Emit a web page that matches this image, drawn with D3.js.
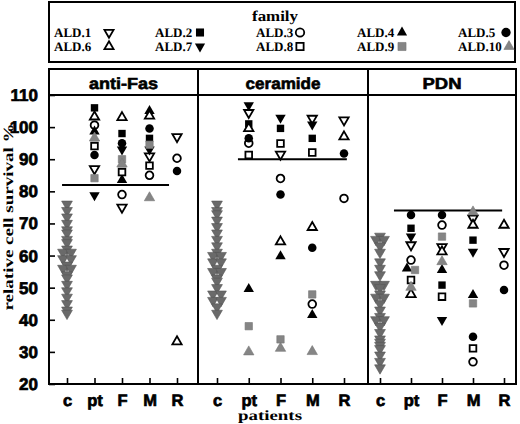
<!DOCTYPE html>
<html><head><meta charset="utf-8">
<script src="https://cdn.jsdelivr.net/npm/d3@7"></script>
<style>body{margin:0;background:#fff}svg{display:block}text{text-rendering:geometricPrecision}</style>
</head><body>
<script>
// ---------- data ----------
const families = ["ALD.1","ALD.2","ALD.3","ALD.4","ALD.5","ALD.6","ALD.7","ALD.8","ALD.9","ALD.10"];
const familyShapes = ["triDown","square","circle","triUp","circle","triUp","triDown","square","square","triUp"];
const familyFills  = ["open","black","open","black","black","open","black","open","gray","gray"];
const categories = ["c","pt","F","M","R"];
const panelNames = ["anti-Fas","ceramide","PDN"];
const yTicks = [20,30,40,50,60,70,80,90,100,110];
const thresholds = [82, 90, 74];

// controls (gray down triangles)
const antiFasControls  = [76,74,72,70,68,67,65,64,62,61,61,59,59,57,56,56,54,53,51,49,47,45,43,42];
const ceramideControls = [76,74,73,71,69,67,65,63,61,60,60,58,58,56,55,55,53,52,50,48,48,46,46,44,42];
const pdnControls      = [66,65,65,63,61,58,56,54,51,51,50,48,47,47,45,43,41,40,40,38,36,34,33,32,31,29,27,25];

// family values, index = ALD.1 .. ALD.10 (null = not measured)
const antiFasPt = [87,106,100.6,98.6,91.3,103.2,78.8,94.1,84.1,96.6];
const antiFasF  = [75,98,79,83.5,95,103,93,86,90,88.5];
const antiFasM  = [91,96.5,85,105,99.6,103.5,93,88,94.5,78];
const antiFasR  = [97,null,90.3,null,86.3,33.2,null,null,null,null];

const ceramidePt = [104.5,101,95,49.6,96.5,99.6,106.8,91.3,38,30];
const ceramideF  = [91.5,99.6,84,59.8,79,64.3,102.9,94.9,33.9,31.1];
const ceramideM  = [102.7,96.5,44.9,41.5,62.4,68.8,100.8,92.1,47.9,30.1];
const ceramideR  = [102.2,null,77.8,null,91.8,97,null,null,null,null];

const pdnPt = [63.3,68.5,58.6,56,72.6,47.9,65.9,52.4,55.5,50.1];
const pdnF  = [62.7,50.8,69.5,55.5,72.6,61.2,39.9,47.2,65.9,58.1];
const pdnM  = [71.6,64.8,26.9,47.7,34.7,69.5,61.2,31.1,45.1,73.6];
const pdnR  = [61.2,null,57,null,49.3,69.5,null,null,null,null];

const panelControls = [antiFasControls, ceramideControls, pdnControls];
const panelGroups = [
  {pt: antiFasPt, F: antiFasF, M: antiFasM, R: antiFasR},
  {pt: ceramidePt, F: ceramideF, M: ceramideM, R: ceramideR},
  {pt: pdnPt, F: pdnF, M: pdnM, R: pdnR}
];

// ---------- layout ----------
const W = 520, H = 424;
const plotTop = 69, headerBottom = 95, plotBottom = 384;
const panelX = [[49,198],[198,368],[368,516]];
const catRange = [[67,177],[217,344],[380,504]];
const lineSpan = [[-0.18,3.71],[0.66,4.09],[0.45,3.94]];
const titleLen = [69,75,39];

const svg = d3.select("body").append("svg").attr("width", W).attr("height", H);

const y = d3.scaleLinear().domain([20,110]).range([plotBottom, headerBottom]);

const sym = d3.symbol();
function shapePath(shape, fill, s) {
  if (shape === "square") return sym.type(d3.symbolSquare).size(s * (fill === "open" ? 0.85 : 1.05))();
  if (shape === "circle") return sym.type(d3.symbolCircle).size(s * (fill === "open" ? 0.9 : 1.1))();
  return sym.type(d3.symbolTriangle).size(s * (fill === "open" ? 0.72 : 0.9))();
}
function drawMarker(g, shape, fill, cx, cy, s) {
  const p = g.append("path")
    .attr("d", shapePath(shape, fill, s))
    .attr("transform", `translate(${cx},${cy})` + (shape === "triDown" ? " rotate(180)" : ""));
  if (fill === "open") p.attr("fill", "#fff").attr("stroke", "#000").attr("stroke-width", 1.8);
  else if (fill === "black") p.attr("fill", "#000");
  else if (fill === "gray") p.attr("fill", "#858585").attr("stroke", "#777").attr("stroke-width", 0.6);
  else if (fill === "ctrl") p.attr("fill", "#6a6a6a").attr("stroke", "#555").attr("stroke-width", 0.6);
  return p;
}

// dodge: points with (nearly) equal values side by side
function dodge(values, tol) {
  const idx = values.map((v, i) => i).filter(i => values[i] != null)
    .sort((a, b) => values[b] - values[a]);
  const off = new Array(values.length).fill(0);
  let group = [];
  const flush = () => {
    group.forEach((i, k) => { off[i] = (k - (group.length - 1) / 2) * 8; });
    group = [];
  };
  idx.forEach(i => {
    if (group.length && Math.abs(values[group[group.length - 1]] - values[i]) > tol) flush();
    group.push(i);
  });
  flush();
  return off;
}

// ---------- legend ----------
const leg = svg.append("g");
leg.append("rect").attr("x", 49).attr("y", 2).attr("width", 466).attr("height", 60)
  .attr("fill", "none").attr("stroke", "#000").attr("stroke-width", 2);
leg.append("text").attr("x", 275).attr("y", 21).attr("text-anchor", "middle")
  .attr("font-family", "Liberation Serif").attr("font-weight", "bold").attr("font-size", 15)
  .attr("textLength", 46).attr("lengthAdjust", "spacingAndGlyphs").text("family");
const legSymDx = [55,45,44,45,48];
families.forEach((f, i) => {
  const col = i % 5, row = Math.floor(i / 5);
  const tx = 54 + col * 101;
  leg.append("text").attr("x", tx).attr("y", 37 + row * 14)
    .attr("font-family", "Liberation Serif").attr("font-weight", "bold").attr("font-size", 13)
    .text(f);
  const shp = familyShapes[i];
  const s = shp.startsWith("tri") ? 50 : 62;
  drawMarker(leg, shp, familyFills[i], tx + legSymDx[col] + (i === 9 ? 3 : 0), 32.5 + row * 14, s);
});

// ---------- panels ----------
panelNames.forEach((name, pi) => {
  const [x0, x1] = panelX[pi];
  const g = svg.append("g");
  const x = d3.scalePoint().domain(categories).range(catRange[pi]);

  // threshold line
  const step = x.step();
  g.append("line")
    .attr("x1", x("c") + lineSpan[pi][0] * step).attr("x2", x("c") + lineSpan[pi][1] * step)
    .attr("y1", y(thresholds[pi])).attr("y2", y(thresholds[pi]))
    .attr("stroke", "#000").attr("stroke-width", 2);

  // controls
  const ctrl = panelControls[pi];
  const cOff = dodge(ctrl, 0.6);
  ctrl.forEach((v, i) => drawMarker(g, "triDown", "ctrl", x("c") + cOff[i], y(v), 56));

  // families
  ["pt","F","M","R"].forEach(cat => {
    const vals = panelGroups[pi][cat];
    const off = dodge(vals, 0.6);
    vals.forEach((v, i) => {
      if (v == null) return;
      drawMarker(g, familyShapes[i], familyFills[i], x(cat) + off[i], y(v), 52);
    });
  });

  // x axis
  const xa = g.append("g").attr("transform", `translate(0,${plotBottom})`)
    .call(d3.axisBottom(x).tickSizeInner(-6).tickSizeOuter(0).tickPadding(10));
  xa.select(".domain").remove();
  xa.selectAll(".tick line").attr("stroke", "#000").attr("stroke-width", 1.6);
  xa.selectAll(".tick text").attr("font-family", "Liberation Sans").attr("font-weight", "bold")
    .attr("font-size", 16.5).attr("fill", "#000").attr("stroke", "#000").attr("stroke-width", 0.7);

  // frame + header
  g.append("rect").attr("x", x0).attr("y", plotTop).attr("width", x1 - x0).attr("height", plotBottom - plotTop)
    .attr("fill", "none").attr("stroke", "#000").attr("stroke-width", 2);
  g.append("line").attr("x1", x0).attr("x2", x1).attr("y1", headerBottom).attr("y2", headerBottom)
    .attr("stroke", "#000").attr("stroke-width", 2);
  g.append("text").attr("x", (x0 + x1) / 2).attr("y", 89).attr("text-anchor", "middle")
    .attr("font-family", "Liberation Sans").attr("font-weight", "bold").attr("font-size", 16)
    .attr("stroke", "#000").attr("stroke-width", 0.6)
    .attr("textLength", titleLen[pi]).attr("lengthAdjust", "spacingAndGlyphs").text(name);
});

// y axis
const ya = svg.append("g").attr("transform", `translate(49,0)`)
  .call(d3.axisLeft(y).tickValues(yTicks).tickSizeInner(-6).tickSizeOuter(0).tickPadding(11));
ya.select(".domain").remove();
ya.selectAll(".tick line").attr("stroke", "#000").attr("stroke-width", 1.6);
ya.selectAll(".tick text").attr("font-family", "Liberation Sans").attr("font-weight", "bold")
  .attr("font-size", 17).attr("fill", "#000").attr("stroke", "#000").attr("stroke-width", 0.7);

// axis titles
svg.append("text").attr("transform", "translate(13,217) rotate(-90)").attr("text-anchor", "middle")
  .attr("font-family", "Liberation Serif").attr("font-weight", "bold").attr("font-size", 14)
  .attr("fill", "#000")
  .attr("textLength", 187).attr("lengthAdjust", "spacingAndGlyphs").text("relative cell survival %");
svg.append("text").attr("x", 270).attr("y", 419.5).attr("text-anchor", "middle")
  .attr("font-family", "Liberation Serif").attr("font-weight", "bold").attr("font-size", 14)
  .attr("textLength", 64).attr("lengthAdjust", "spacingAndGlyphs").text("patients");
</script>
</body></html>
